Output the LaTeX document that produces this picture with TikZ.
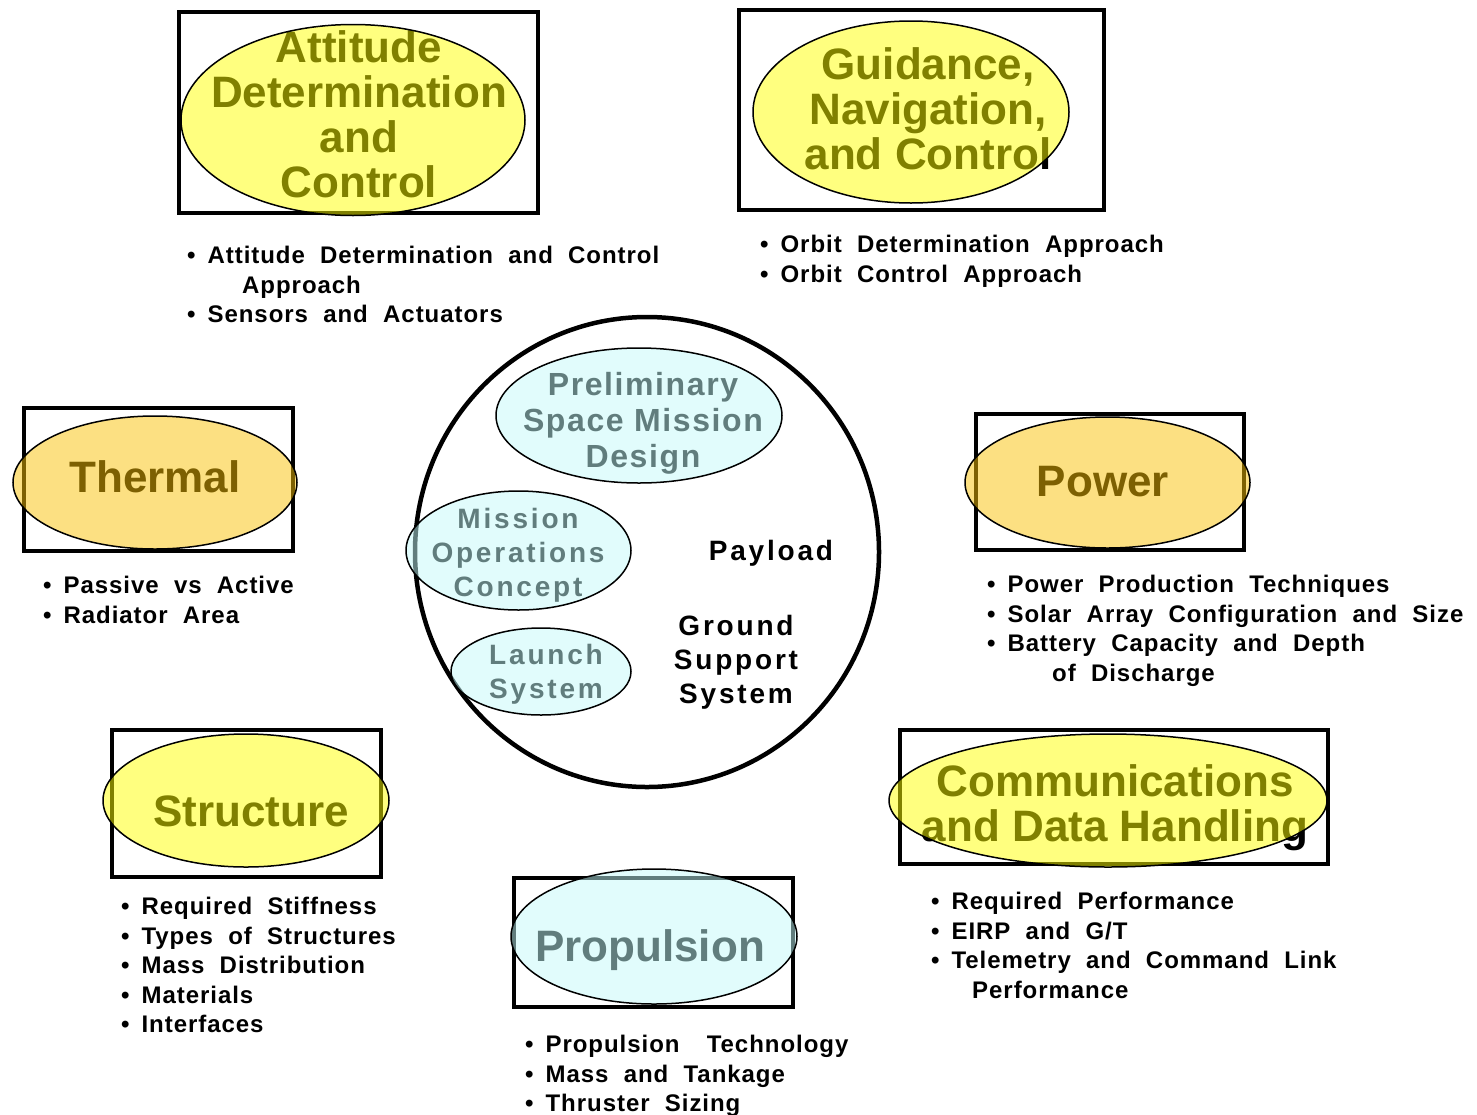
\documentclass[tikz,border=0pt]{standalone}
\usepackage{fontspec}
\setmainfont{Liberation Sans}
\newfontfamily\notesfont{Liberation Sans}[WordSpace=2, LetterSpace=4]
\newfontfamily\spacedfont{Liberation Sans}[LetterSpace=10]
\newfontfamily\widefont{Liberation Sans}[LetterSpace=5]
\usetikzlibrary{shapes.geometric}
\definecolor{hotyellow}{RGB}{255,255,0}
\definecolor{warmorange}{RGB}{250,193,5}
\definecolor{palecyan}{RGB}{195,250,250}
\newcommand{\itm}{\textbullet\hspace{12pt}}

\begin{document}
\begin{tikzpicture}[x=1pt, y=-1pt,
    sysbox/.style = {draw, line width=4pt, inner sep=0pt},
    blob/.style = {draw, ellipse, line width=1.5pt, fill=#1, fill opacity=0.5, inner sep=0pt},
    head/.style = {align=center, inner sep=0pt, font=\bfseries\fontsize{44}{45}\selectfont},
    core/.style = {align=center, inner sep=0pt, font=\spacedfont\bfseries\fontsize{28}{34}\selectfont},
    notes/.style = {align=left, anchor=north west, inner sep=0pt, font=\notesfont\bfseries\fontsize{24}{29.5}\selectfont}]
  \useasboundingbox (0,0) rectangle (1477,1114);
  %
  \node[sysbox, minimum width=359pt, minimum height=201pt] (adcbox) at (358.5,112.5) {};
  \node[sysbox, minimum width=365pt, minimum height=200pt] (gncbox) at (921.5,110) {};
  \node[sysbox, minimum width=269pt, minimum height=143pt] (thermbox) at (158.5,479.5) {};
  \node[sysbox, minimum width=268pt, minimum height=136pt] (powbox) at (1110,482) {};
  \node[sysbox, minimum width=269pt, minimum height=147pt] (strucbox) at (246.5,803.5) {};
  \node[sysbox, minimum width=279pt, minimum height=129pt] (propbox) at (653.5,942.5) {};
  \node[sysbox, minimum width=428pt, minimum height=134pt] (commbox) at (1114,797) {};
  \node[draw, ellipse, line width=4.5pt, inner sep=0pt, minimum width=464pt, minimum height=470pt] (hub) at (647,552) {};
  %
  \node[head] (adctext) at (359,114) {Attitude\\Determination\\and\\Control};
  \node[head] (gnctext) at (928,109) {Guidance,\\Navigation,\\and Control};
  \node[head, anchor=base] (thermtext) at (155,492) {Thermal};
  \node[head, anchor=base] (powtext) at (1103,496) {Power};
  \node[head, anchor=base] (structext) at (251,826) {Structure};
  \node[head, anchor=base] (proptext) at (650,961) {Propulsion};
  \node[head] (commtext) at (1115,808) {Communications\\and Data Handling};
  \node[core, font=\widefont\bfseries\fontsize{32}{36}\selectfont] (psmdtext) at (643,423) {Preliminary\\Space Mission\\Design};
  \node[core] (moctext) at (518,555) {Mission\\Operations\\Concept};
  \node[core] (lstext) at (546,674) {Launch\\System};
  \node[core, anchor=base] (payload) at (771,560) {Payload};
  \node[core] (gsstext) at (736,662) {Ground\\Support\\System};
  %
  \node[blob=hotyellow, minimum width=344pt, minimum height=191pt] (adc) at (353,120) {};
  \node[blob=hotyellow, minimum width=316pt, minimum height=182pt] (gnc) at (911,112) {};
  \node[blob=warmorange, minimum width=284pt, minimum height=133pt] (thermal) at (155,482.5) {};
  \node[blob=warmorange, minimum width=285pt, minimum height=131pt] (power) at (1107.5,482.5) {};
  \node[blob=hotyellow, minimum width=286pt, minimum height=133pt] (structure) at (246,800.5) {};
  \node[blob=palecyan, minimum width=286pt, minimum height=135pt] (propulsion) at (654,936.5) {};
  \node[blob=hotyellow, minimum width=438pt, minimum height=133pt] (comms) at (1108,800.5) {};
  \node[blob=palecyan, minimum width=286pt, minimum height=135pt] (psmd) at (639,415.5) {};
  \node[blob=palecyan, minimum width=225pt, minimum height=119pt] (moc) at (518.5,550.5) {};
  \node[blob=palecyan, minimum width=180pt, minimum height=87pt] (launch) at (541,671.5) {};
  %
  \node[notes] (adcnotes) at (187,246) {\itm Attitude Determination and Control\\\hspace*{55pt}Approach\\\itm Sensors and Actuators};
  \node[notes] (gncnotes) at (760,235) {\itm Orbit Determination Approach\\\itm Orbit Control Approach};
  \node[notes] (thermnotes) at (43,576) {\itm Passive vs Active\\\itm Radiator Area};
  \node[notes] (pownotes) at (987,575) {\itm Power Production Techniques\\\itm Solar Array Configuration and Size\\\itm Battery Capacity and Depth\\\hspace*{65pt}of Discharge};
  \node[notes] (strucnotes) at (121,897) {\itm Required Stiffness\\\itm Types of Structures\\\itm Mass Distribution\\\itm Materials\\\itm Interfaces};
  \node[notes] (propnotes) at (525,1035) {\itm Propulsion\hspace{12pt} Technology\\\itm Mass and Tankage\\\itm Thruster Sizing};
  \node[notes] (commnotes) at (931,892) {\itm Required Performance\\\itm EIRP and G/T\\\itm Telemetry and Command Link\\\hspace*{41pt}Performance};
\end{tikzpicture}
\end{document}
